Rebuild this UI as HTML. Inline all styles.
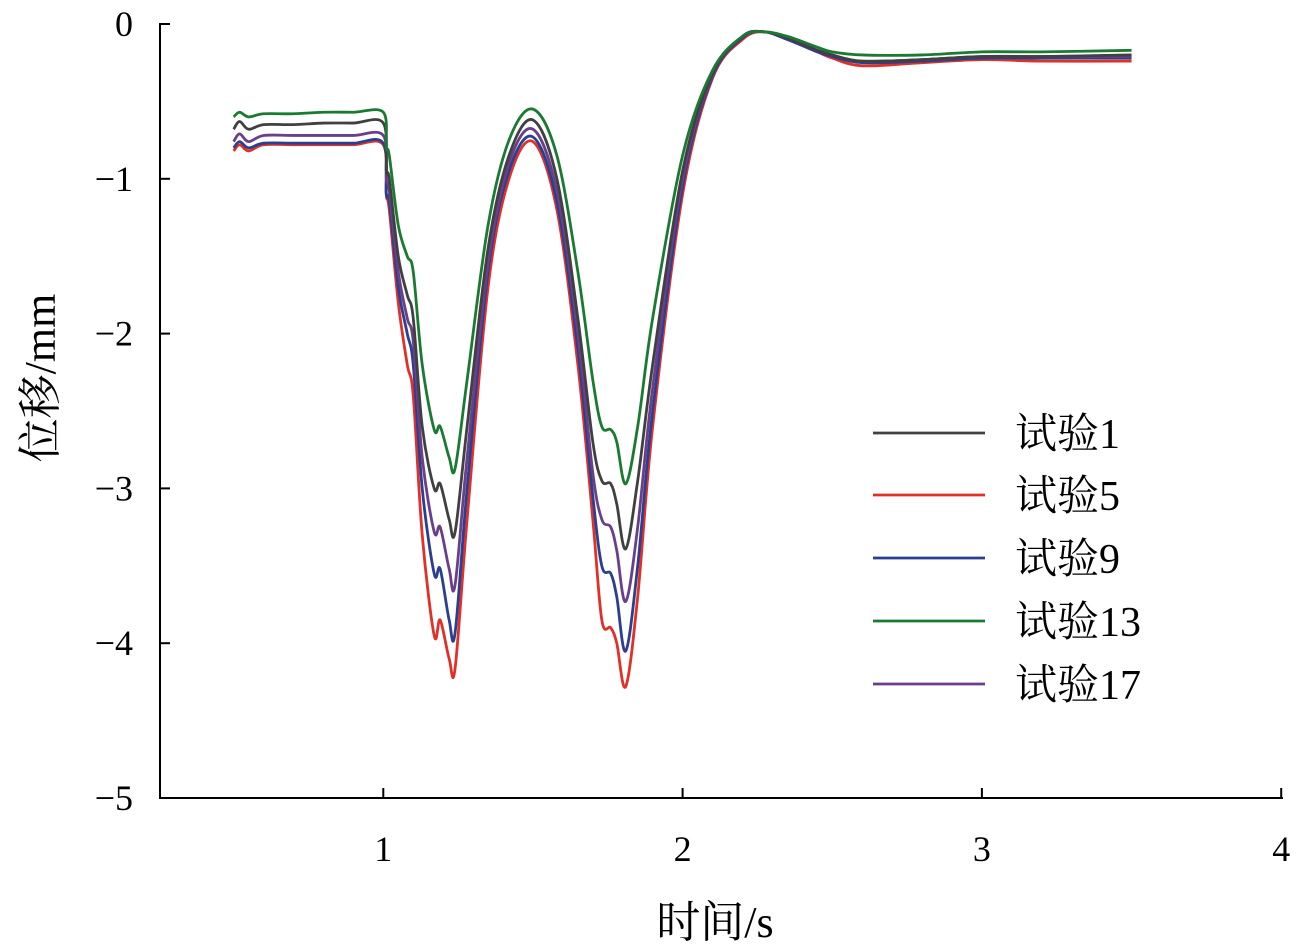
<!DOCTYPE html>
<html><head><meta charset="utf-8"><style>
html,body{margin:0;padding:0;background:#fff;}
svg{display:block;font-family:"Liberation Serif","Noto Serif CJK SC",serif;}
</style></head><body>
<svg id="chart" width="1299" height="948" viewBox="0 0 1299 948" xmlns="http://www.w3.org/2000/svg">
<g id="axes"></g><g id="series"></g><g id="legend"></g>
<text x="715" y="937" font-size="44" text-anchor="middle" font-family="Liberation Serif, Noto Serif CJK SC, serif">时间/s</text>
<text transform="translate(55,378) rotate(-90)" font-size="44" text-anchor="middle" font-family="Liberation Serif, Noto Serif CJK SC, serif">位移/mm</text>
</svg>
<script>
const xTicks=[1,2,3,4];
const yTicks=[0,-1,-2,-3,-4,-5];
const yTickLabels=["0","−1","−2","−3","−4","−5"];
const seriesNames=["试验1","试验5","试验9","试验13","试验17"];
const seriesColors=["#404040","#e0302a","#2a3f8f","#1a7a32","#6a3f8a"];
const times=[0.5,0.52,0.55,0.6,0.7,0.8,0.9,1.0,1.01,1.02,1.05,1.08,1.1,1.13,1.17,1.19,1.22,1.24,1.28,1.35,1.42,1.5,1.58,1.65,1.7,1.73,1.76,1.78,1.81,1.85,1.9,2.0,2.1,2.2,2.27,2.35,2.45,2.5,2.6,2.8,3.0,3.2,3.5];
const s1=[-0.68,-0.63,-0.68,-0.65,-0.65,-0.64,-0.64,-0.64,-0.95,-1.0,-1.5,-1.75,-1.9,-2.6,-3.0,-2.97,-3.2,-3.28,-2.6,-1.45,-0.85,-0.62,-1.0,-1.9,-2.7,-2.95,-2.97,-3.1,-3.39,-2.95,-2.2,-0.95,-0.32,-0.08,-0.05,-0.09,-0.17,-0.2,-0.24,-0.23,-0.21,-0.21,-0.2];
const s5=[-0.82,-0.78,-0.82,-0.78,-0.78,-0.78,-0.78,-0.78,-1.1,-1.2,-1.8,-2.2,-2.4,-3.3,-3.95,-3.85,-4.1,-4.16,-3.2,-1.7,-1.0,-0.76,-1.2,-2.2,-3.2,-3.85,-3.9,-4.0,-4.28,-3.7,-2.6,-1.1,-0.35,-0.1,-0.05,-0.1,-0.18,-0.22,-0.27,-0.25,-0.23,-0.24,-0.24];
const s9=[-0.8,-0.76,-0.8,-0.77,-0.77,-0.77,-0.77,-0.77,-1.1,-1.15,-1.7,-2.0,-2.2,-3.0,-3.55,-3.52,-3.85,-3.93,-3.0,-1.6,-0.95,-0.73,-1.15,-2.1,-3.05,-3.5,-3.55,-3.7,-4.05,-3.5,-2.5,-1.05,-0.34,-0.09,-0.05,-0.1,-0.18,-0.21,-0.25,-0.24,-0.22,-0.22,-0.22];
const s13=[-0.6,-0.57,-0.6,-0.58,-0.58,-0.57,-0.57,-0.57,-0.8,-0.85,-1.3,-1.5,-1.6,-2.2,-2.62,-2.6,-2.8,-2.87,-2.3,-1.3,-0.75,-0.55,-0.85,-1.6,-2.3,-2.6,-2.62,-2.7,-2.97,-2.6,-1.9,-0.85,-0.3,-0.08,-0.05,-0.08,-0.15,-0.18,-0.2,-0.2,-0.18,-0.18,-0.17];
const s17=[-0.76,-0.71,-0.76,-0.72,-0.72,-0.72,-0.72,-0.72,-1.0,-1.08,-1.6,-1.9,-2.05,-2.8,-3.28,-3.25,-3.52,-3.62,-2.8,-1.55,-0.9,-0.68,-1.08,-2.0,-2.9,-3.2,-3.25,-3.4,-3.73,-3.25,-2.35,-1.0,-0.33,-0.08,-0.05,-0.09,-0.17,-0.2,-0.24,-0.23,-0.21,-0.21,-0.21];
const seriesValues=[s1,s5,s9,s13,s17];

const NS="http://www.w3.org/2000/svg";
function xs(v){return 84+v*299.3;}
function ys(v){return 24-v*154.8;}
function mk(tag,attrs,parent){const e=document.createElementNS(NS,tag);for(const k in attrs)e.setAttribute(k,attrs[k]);parent.appendChild(e);return e;}
const axes=document.getElementById('axes');
const xa=mk('line',{x1:160,y1:798,x2:1283,y2:798,stroke:'#000','stroke-width':2},axes);


const ya=mk('line',{x1:160,y1:23,x2:160,y2:799,stroke:'#000','stroke-width':2},axes);


xTicks.forEach(v=>{
  const t=mk('line',{x1:xs(v),y1:798,x2:xs(v),y2:788,stroke:'#000','stroke-width':2},axes);
  
  
  const l=mk('text',{x:xs(v),y:861,'font-size':36,'text-anchor':'middle'},axes);
  l.textContent=v;
  
  
});
yTicks.forEach((v,i)=>{
  const t=mk('line',{x1:160,y1:ys(v),x2:170,y2:ys(v),stroke:'#000','stroke-width':2},axes);
  
  
  const l=mk('text',{x:133,y:ys(v)+12,'font-size':36,'text-anchor':'end'},axes);
  l.textContent=yTickLabels[i];
  
  
});
function smooth(pts){
  let d=`M${pts[0][0]},${pts[0][1]}`;
  for(let i=0;i<pts.length-1;i++){
    const p0=pts[i-1]||pts[i],p1=pts[i],p2=pts[i+1],p3=pts[i+2]||p2;
    const c1=[p1[0]+(p2[0]-p0[0])/6,p1[1]+(p2[1]-p0[1])/6];
    const c2=[p2[0]-(p3[0]-p1[0])/6,p2[1]-(p3[1]-p1[1])/6];
    d+=` C${c1[0]},${c1[1]} ${c2[0]},${c2[1]} ${p2[0]},${p2[1]}`;
  }
  return d;
}
const sg=document.getElementById('series');
const order=[1,2,4,0,3];
order.forEach(i=>{
  const pts=times.map((t,j)=>[xs(t),ys(seriesValues[i][j])]);
  const p=mk('path',{d:smooth(pts),fill:'none',stroke:seriesColors[i],'stroke-width':2.8},sg);
  
  
});
const lg=document.getElementById('legend');
const rows=[433,495,558,621,684];
seriesNames.forEach((n,i)=>{
  const l=mk('line',{x1:873,y1:rows[i],x2:985,y2:rows[i],stroke:seriesColors[i],'stroke-width':2.8},lg);
  
  
  const t=mk('text',{x:1015,y:rows[i]+15,'font-size':42},lg);
  t.textContent=n;
  
  
});
</script>
</body></html>
